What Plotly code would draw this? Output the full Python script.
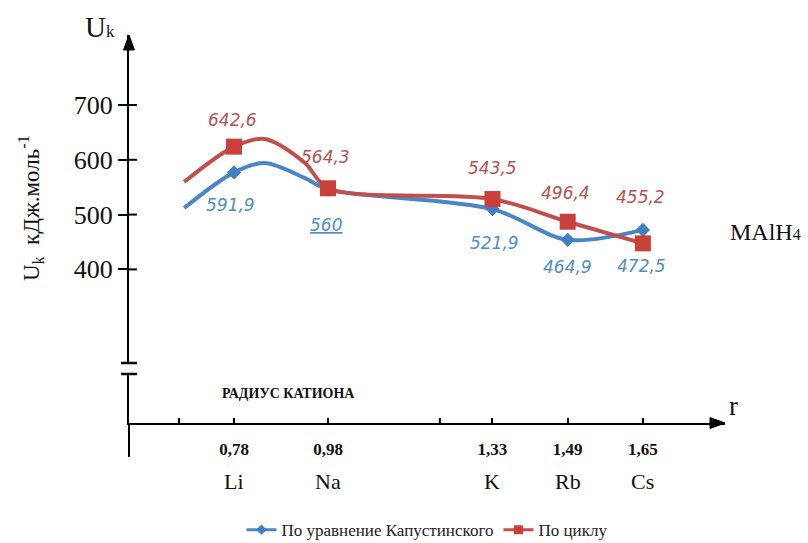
import plotly.graph_objects as go

# ---- data ----
radius = [0.78, 0.98, 1.33, 1.49, 1.65]
radius_labels = ["0,78", "0,98", "1,33", "1,49", "1,65"]
cations = ["Li", "Na", "K", "Rb", "Cs"]

kap_values = [577, 546, 510, 454, 472]          # По уравнение Капустинского (markers)
cycle_values = [624, 548, 528.5, 487, 447.5]    # По циклу (markers)
kap_labels = ["591,9", "<u>560</u>", "521,9", "464,9", "472,5"]
cycle_labels = ["642,6", "564,3", "543,5", "496,4", "455,2"]

# traced smooth curves
kap_curve_r = [0.674, 0.78, 0.845, 0.93, 0.98, 1.33, 1.49, 1.65]
kap_curve_u = [512, 577, 594, 567, 546, 510, 454, 472]
cycle_curve_r = [0.674, 0.78, 0.845, 0.93, 0.98, 1.33, 1.49, 1.65]
cycle_curve_u = [559.5, 624, 638, 595, 548, 528.5, 487, 447.5]

minor_ticks = [0.663, 1.218]
y_ticks = [400, 500, 600, 700]

# ---- label offsets (pixels) ----
kap_shift = [(-4, -33), (-2, -36), (2, -34), (0, -27), (-1, -36)]
cycle_shift = [(-2, 27), (-3, 31), (0, 31), (-2, 29), (-2, 46)]

RED_LINE = "#c0504d"
RED_MK = "#c9403a"
RED_TXT = "#b5524f"
BLUE_LINE = "#4a86c5"
BLUE_MK = "#3f7fc2"
BLUE_TXT = "#4f8fbf"
SERIF = "Liberation Serif, DejaVu Serif, serif"

PW, PH = 596, 388  # plot area size in px

fig = go.Figure()

fig.add_trace(go.Scatter(x=kap_curve_r, y=kap_curve_u, mode="lines",
                         line=dict(color=BLUE_LINE, width=4, shape="spline", smoothing=0.9),
                         showlegend=False, hoverinfo="skip"))
fig.add_trace(go.Scatter(x=cycle_curve_r, y=cycle_curve_u, mode="lines",
                         line=dict(color=RED_LINE, width=4, shape="spline", smoothing=0.9),
                         showlegend=False, hoverinfo="skip"))
fig.add_trace(go.Scatter(x=radius, y=kap_values, mode="markers",
                         marker=dict(symbol="diamond", size=11, color=BLUE_MK),
                         showlegend=False))
fig.add_trace(go.Scatter(x=radius, y=cycle_values, mode="markers",
                         marker=dict(symbol="square", size=16, color=RED_MK),
                         showlegend=False))

# legend entries
fig.add_trace(go.Scatter(x=[None], y=[None], mode="lines+markers",
                         name="По уравнение Капустинского",
                         line=dict(color=BLUE_LINE, width=3),
                         marker=dict(symbol="diamond", size=8, color=BLUE_MK)))
fig.add_trace(go.Scatter(x=[None], y=[None], mode="lines+markers",
                         name="По циклу",
                         line=dict(color=RED_LINE, width=3),
                         marker=dict(symbol="square", size=9, color=RED_MK)))

annotations = []
for r, v, t, (dx, dy) in zip(radius, kap_values, kap_labels, kap_shift):
    annotations.append(dict(x=r, y=v, xref="x", yref="y", text="<i>" + t + "</i>",
                            showarrow=False, xshift=dx, yshift=dy, xanchor="center",
                            font=dict(family="DejaVu Sans", size=17, color=BLUE_TXT)))
for r, v, t, (dx, dy) in zip(radius, cycle_values, cycle_labels, cycle_shift):
    annotations.append(dict(x=r, y=v, xref="x", yref="y", text="<i>" + t + "</i>",
                            showarrow=False, xshift=dx, yshift=dy, xanchor="center",
                            font=dict(family="DejaVu Sans", size=17, color=RED_TXT)))
for r, name in zip(radius, cations):
    annotations.append(dict(x=r, y=-0.1495, xref="x", yref="paper", text=name,
                            showarrow=False, xanchor="center", yanchor="middle",
                            font=dict(family=SERIF, size=22, color="#111")))

annotations += [
    dict(x=-0.02, y=1.0206, xref="paper", yref="paper", xanchor="right", yanchor="middle",
         text="U<span style='font-size:17px'>k</span>", showarrow=False,
         font=dict(family=SERIF, size=29, color="#111")),
    dict(x=-0.166, y=0.554, xref="paper", yref="paper", textangle=-90,
         xanchor="center", yanchor="middle",
         text="U<sub>k</sub>  кДж.моль<sup>-1</sup>", showarrow=False,
         font=dict(family=SERIF, size=23, color="#111")),
    dict(x=0.2668, y=0.0773, xref="paper", yref="paper", xanchor="center", yanchor="middle",
         text="<b>РАДИУС КАТИОНА</b>", showarrow=False,
         font=dict(family=SERIF, size=14, color="#111")),
    dict(x=1.015, y=0.0438, xref="paper", yref="paper", xanchor="center", yanchor="middle",
         text="r", showarrow=False,
         font=dict(family=SERIF, size=27, color="#111")),
    dict(x=1.068, y=0.492, xref="paper", yref="paper", xanchor="center", yanchor="middle",
         text="MAlH<span style='font-size:16px'>4</span>", showarrow=False,
         font=dict(family=SERIF, size=24, color="#111")),
]

shapes = []
# inner half of the crossing y ticks
for t in y_ticks:
    shapes.append(dict(type="line", xref="paper", yref="y", x0=0, x1=8 / PW, y0=t, y1=t,
                       line=dict(color="black", width=2)))
# unlabeled small ticks on r axis
for t in minor_ticks:
    shapes.append(dict(type="line", xref="x", yref="paper", x0=t, x1=t, y0=0, y1=5 / PH,
                       line=dict(color="black", width=2)))
# axis break
shapes.append(dict(type="rect", xref="paper", yref="paper", x0=-0.01, x1=0.01,
                   y0=0.1263, y1=0.1546, fillcolor="white", line=dict(width=0), layer="above"))
for yb in (0.1263, 0.1546):
    shapes.append(dict(type="line", xref="paper", yref="paper", x0=-8 / PW, x1=8 / PW,
                       y0=yb, y1=yb, line=dict(color="black", width=2.5)))
# y axis continuation below the r axis
shapes.append(dict(type="line", xref="paper", yref="paper", x0=0, x1=0, y0=0, y1=-34 / PH,
                   line=dict(color="black", width=2)))
# arrow heads
hw_y, hl_y = 5.5 / PW, 15 / PH
shapes.append(dict(type="path", xref="paper", yref="paper",
                   path=f"M 0 1 L {-hw_y} {1 - hl_y} L {hw_y} {1 - hl_y} Z",
                   fillcolor="black", line=dict(color="black", width=1)))
hl_x, hw_x = 15 / PW, 5.5 / PH
shapes.append(dict(type="path", xref="paper", yref="paper",
                   path=f"M 1 0 L {1 - hl_x} {hw_x} L {1 - hl_x} {-hw_x} Z",
                   fillcolor="black", line=dict(color="black", width=1)))

fig.update_layout(
    width=808, height=543,
    margin=dict(l=129, r=808 - 129 - PW, t=35, b=543 - 35 - PH, autoexpand=False),
    plot_bgcolor="white", paper_bgcolor="white",
    annotations=annotations, shapes=shapes,
    legend=dict(orientation="h", x=0.5, xanchor="center", y=-0.276, yanchor="middle",
                font=dict(family=SERIF, size=17, color="#222")),
    xaxis=dict(range=[0.5566, 1.8247], showline=True, linecolor="black", linewidth=2,
               showgrid=False, zeroline=False, automargin=False,
               tickvals=radius,
               ticktext=["<b>" + s + "</b>" for s in radius_labels],
               ticks="inside", ticklen=5, tickwidth=2, tickcolor="black",
               ticklabelstandoff=10,
               tickfont=dict(family=SERIF, size=17, color="#111")),
    yaxis=dict(range=[119.7, 827.7], showline=True, linecolor="black", linewidth=2,
               showgrid=False, zeroline=False, tickvals=y_ticks, automargin=False,
               ticks="outside", ticklen=9, tickwidth=2, tickcolor="black",
               tickfont=dict(family=SERIF, size=26, color="#111")),
)

fig.write_html("out.html", config={"displayModeBar": False},
               post_script="document.body.style.margin='0px';")
